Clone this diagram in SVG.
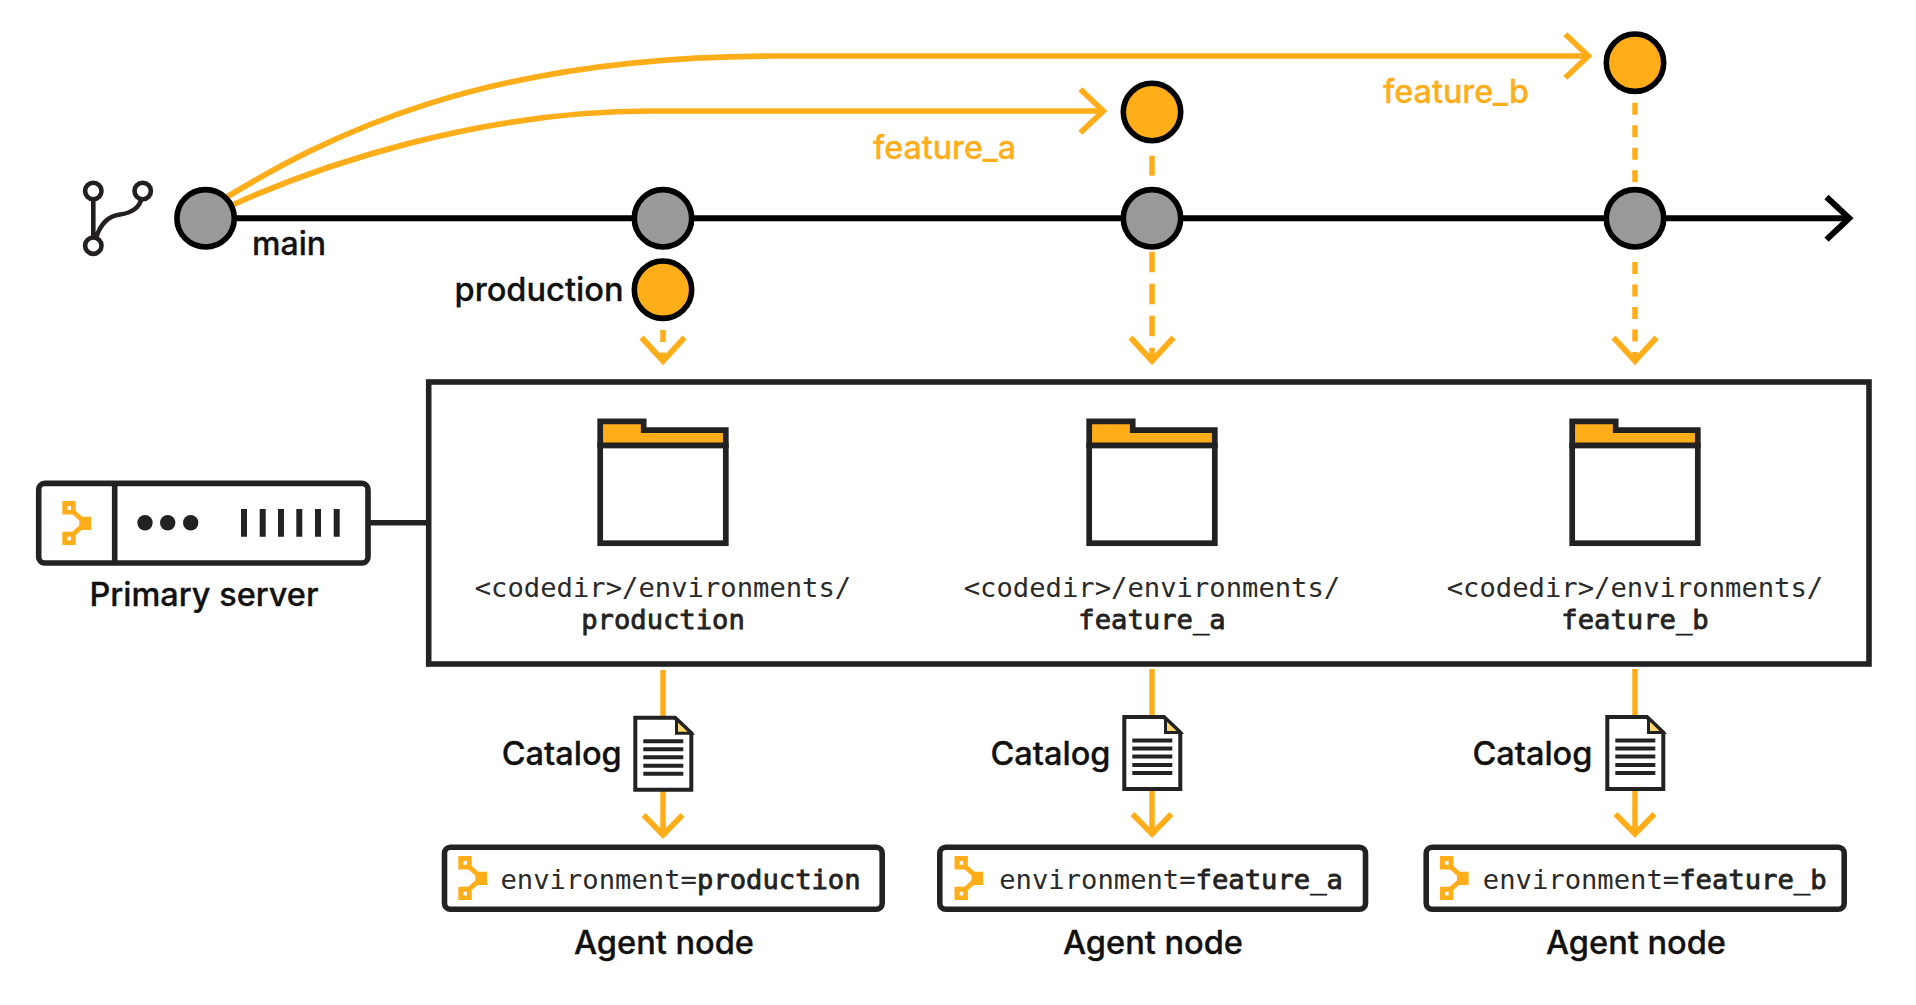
<svg xmlns="http://www.w3.org/2000/svg" xmlns:xlink="http://www.w3.org/1999/xlink" width="1916" height="1005" viewBox="0 0 1916 1005">
<style>
.or{fill:none;stroke:#FFAE1A;stroke-width:5.7}
.orthin{fill:none;stroke:#FFAE1A;stroke-width:5.5}
.d1{stroke-dasharray:20.5 11.5}
.d2{stroke-dasharray:12 10.5}
.main{fill:none;stroke:#000;stroke-width:6}
.dk{fill:none;stroke:#222;stroke-width:5.6}
.c{stroke:#000;stroke-width:5.6}
.gr{fill:#999}
.og{fill:#FFAE1A}
.t{font-family:Inter,"Liberation Sans",sans-serif;font-weight:500;font-size:32px;fill:#111;stroke:#111;stroke-width:.3}
.to{fill:#FFAE1A;stroke:#FFAE1A}
.m{font-family:"DejaVu Sans Mono","Liberation Mono",monospace;font-size:27.2px;fill:#2a2a2a}
.b{fill:#222;stroke:#222;stroke-width:.8}
.mid{text-anchor:middle}
</style>
<defs>
<g id="tree">
<path class="og" d="M0 0H13.4V13.4H0Z M0 30.7H13.4V44H0Z M17 15.7H28.7V29H17Z"/>
<path d="M10 10L20 19M10 34L20 25" fill="none" stroke="#FFAE1A" stroke-width="5"/>
<path d="M5 5H8.7V8.7H5Z M5 35.7H8.7V39.4H5Z" fill="#fff"/>
</g>
<g id="folder">
<path d="M-62.8 445.5V421.3H-19.3V430.2H62.8V445.5Z" fill="#FFAE1A" stroke="#222" stroke-width="5.7"/>
<rect x="-62.8" y="445.5" width="125.6" height="97.7" fill="#fff" stroke="#222" stroke-width="5.7"/>
</g>
<g id="doc">
<path d="M-27.7 2H12L28.3 17.5V74H-27.7Z" fill="#fff" stroke="#222" stroke-width="4"/>
<path d="M13.5 3.5V17.5H28.3Z" fill="#FFD76E" stroke="#222" stroke-width="3"/>
<path d="M-19.7 25.6H20.3M-19.7 33.6H20.3M-19.7 41.6H20.3M-19.7 50H20.3M-19.7 58H20.3" fill="none" stroke="#222" stroke-width="4"/>
</g>
</defs>
<rect width="1916" height="1005" fill="#fff"/>
<g id="connectors">
<path class="main" d="M205.6 218.3H1849"/>
<path class="main" d="M1826.5 197L1849.2 218.3L1826.5 239.6"/>
<path class="or" d="M222 200C325 137 480 56 775 56H1588"/>
<path class="or" d="M1565.3 34.2L1588.3 56L1565.3 77.8"/>
<path class="or" d="M230 206C320 165 480 111 650 111H1103"/>
<path class="or" d="M1080.3 89.2L1103.3 111L1080.3 132.8"/>
<path class="orthin" d="M1152 155.7V175.7"/>
<path class="orthin d1" d="M1152 251.7V361"/>
<path class="or" d="M1130.5 337.5L1152 361L1173.5 337.5"/>
<path class="orthin d2" d="M1635 102.7V182.7"/>
<path class="orthin d2" d="M1635 262V361"/>
<path class="or" d="M1613.5 337.5L1635 361L1656.5 337.5"/>
<path class="orthin d2" d="M663 330V361"/>
<path class="or" d="M641.5 337.5L663 361L684.5 337.5"/>
<path class="dk" d="M368 522.7H428.7"/>
<path class="orthin" d="M663 670V835"/>
<path class="or" d="M643.5 815L663 835L682.5 815"/>
<path class="orthin" d="M1152 669V834"/>
<path class="or" d="M1132.5 814L1152 834L1171.5 814"/>
<path class="orthin" d="M1635 669V834"/>
<path class="or" d="M1615.5 814L1635 834L1654.5 814"/>
</g>
<g id="git-icon" fill="none" stroke="#231f20" stroke-width="4.6">
<circle cx="93.3" cy="191" r="8.2"/>
<circle cx="142.7" cy="191" r="8.2"/>
<circle cx="93.3" cy="245.7" r="8.2"/>
<path d="M93.3 199V237.5M96 238C100 225 108 216 120 214.5C131 213 139 208 141.5 199"/>
</g>
<g id="commit-main-1"><circle class="c gr" cx="205.6" cy="218.3" r="28.7"/><text class="t" x="252" y="255" textLength="74" lengthAdjust="spacingAndGlyphs">main</text></g>
<g id="commit-main-2"><circle class="c gr" cx="663" cy="218.3" r="28.7"/></g>
<g id="commit-main-3"><circle class="c gr" cx="1152" cy="218.3" r="28.7"/></g>
<g id="commit-main-4"><circle class="c gr" cx="1635" cy="218.3" r="28.7"/></g>
<g id="branch-production"><circle class="c og" cx="663" cy="289.7" r="28.7"/><text class="t" x="454.5" y="301" textLength="169" lengthAdjust="spacingAndGlyphs">production</text></g>
<g id="branch-feature-a"><circle class="c og" cx="1152" cy="112" r="28.7"/><text class="t to" x="873" y="159.3" textLength="143" lengthAdjust="spacingAndGlyphs">feature_a</text></g>
<g id="branch-feature-b"><circle class="c og" cx="1635" cy="62.7" r="28.7"/><text class="t to" x="1383" y="103" textLength="146" lengthAdjust="spacingAndGlyphs">feature_b</text></g>
<g id="primary-server">
<rect class="dk" x="38.7" y="483.4" width="329.3" height="79.6" rx="6"/>
<path class="dk" d="M114.7 483.4V563"/>
<use href="#tree" x="62.3" y="501"/>
<circle cx="145" cy="522.7" r="7.7" fill="#222"/><circle cx="167.7" cy="522.7" r="7.7" fill="#222"/><circle cx="190.7" cy="522.7" r="7.7" fill="#222"/>
<path d="M244 509V536.7M262.7 509V536.7M281 509V536.7M299.3 509V536.7M318 509V536.7M336.7 509V536.7" fill="none" stroke="#222" stroke-width="6"/>
<text class="t" x="89.5" y="606" textLength="229" lengthAdjust="spacingAndGlyphs">Primary server</text>
</g>
<g id="code-dir">
<rect class="dk" x="428.7" y="382" width="1440.3" height="282"/>
</g>
<g id="env-production">
<use href="#folder" x="663"/>
<text class="m mid" x="663" y="596.7">&lt;codedir&gt;/environments/</text>
<text class="m mid b" x="663" y="629.3">production</text>
</g>
<g id="env-feature-a">
<use href="#folder" x="1152"/>
<text class="m mid" x="1152" y="596.7">&lt;codedir&gt;/environments/</text>
<text class="m mid b" x="1152" y="629.3">feature_a</text>
</g>
<g id="env-feature-b">
<use href="#folder" x="1635"/>
<text class="m mid" x="1635" y="596.7">&lt;codedir&gt;/environments/</text>
<text class="m mid b" x="1635" y="629.3">feature_b</text>
</g>
<g id="catalog-production"><use href="#doc" x="663" y="715.7"/><text class="t" x="501.7" y="765" textLength="120" lengthAdjust="spacingAndGlyphs">Catalog</text></g>
<g id="catalog-feature-a"><use href="#doc" x="1152" y="715"/><text class="t" x="990.5" y="765" textLength="120" lengthAdjust="spacingAndGlyphs">Catalog</text></g>
<g id="catalog-feature-b"><use href="#doc" x="1635" y="715"/><text class="t" x="1472.4" y="765" textLength="120" lengthAdjust="spacingAndGlyphs">Catalog</text></g>
<g id="agent-production">
<rect class="dk" x="444.5" y="847.2" width="437.7" height="62" rx="6"/>
<use href="#tree" x="458.3" y="856"/>
<text class="m" x="500.5" y="888.5">environment=<tspan class="b">production</tspan></text>
<text class="t" x="574" y="954" textLength="180" lengthAdjust="spacingAndGlyphs">Agent node</text>
</g>
<g id="agent-feature-a">
<rect class="dk" x="939.8" y="847.2" width="425.7" height="62" rx="6"/>
<use href="#tree" x="954.5" y="856"/>
<text class="m" x="999.2" y="888.5">environment=<tspan class="b">feature_a</tspan></text>
<text class="t" x="1063" y="954" textLength="180" lengthAdjust="spacingAndGlyphs">Agent node</text>
</g>
<g id="agent-feature-b">
<rect class="dk" x="1426.2" y="847.2" width="418" height="62" rx="6"/>
<use href="#tree" x="1439.9" y="856"/>
<text class="m" x="1482.8" y="888.5">environment=<tspan class="b">feature_b</tspan></text>
<text class="t" x="1546" y="954" textLength="180" lengthAdjust="spacingAndGlyphs">Agent node</text>
</g>
</svg>
